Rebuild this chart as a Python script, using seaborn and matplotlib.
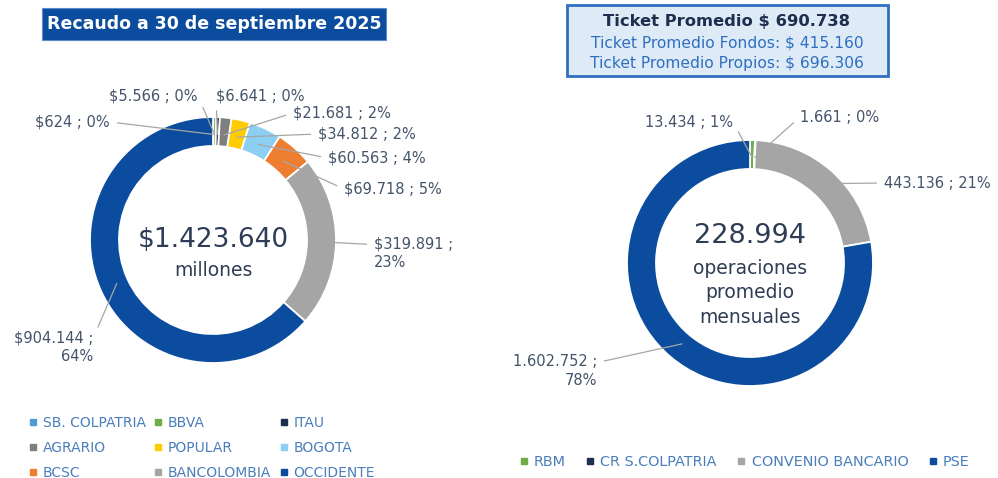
import matplotlib
matplotlib.use("Agg")
import matplotlib.pyplot as plt
from matplotlib.patches import Rectangle
from matplotlib.lines import Line2D
import seaborn as sns
import numpy as np

# ---------------- data ----------------
left_title = "Recaudo a 30 de septiembre 2025"
left_categories = ["SB. COLPATRIA", "BBVA", "ITAU", "AGRARIO", "POPULAR",
                   "BOGOTA", "BCSC", "BANCOLOMBIA", "OCCIDENTE"]
left_values = [624, 5566, 6641, 21681, 34812, 60563, 69718, 319891, 904144]
left_pcts = ["0%", "0%", "0%", "2%", "2%", "4%", "5%", "23%", "64%"]
left_center = ["$1.423.640", "millones"]

right_title = ["Ticket Promedio $ 690.738",
               "Ticket Promedio Fondos: $ 415.160",
               "Ticket Promedio Propios: $ 696.306"]
right_categories = ["RBM", "CR S.COLPATRIA", "CONVENIO BANCARIO", "PSE"]
right_values = [13434, 1661, 443136, 1602752]
right_pcts = ["1%", "0%", "21%", "78%"]
right_center = ["228.994", "operaciones\npromedio\nmensuales"]

# ---------------- style ----------------
left_colors = ["#4e9bd9", "#70ad47", "#1f2d4e", "#7f7f7f", "#ffcc00",
               "#8ccff2", "#ed7d31", "#a5a5a5", "#0b4c9e"]
right_colors = ["#70ad47", "#1f2d4e", "#a5a5a5", "#0b4c9e"]

sns.set_theme(style="white")
plt.rcParams['font.family'] = ['DejaVu Sans']

W, H = 998, 478
LABEL_C = "#44546a"
LEG_C = "#4a7ebb"
LINE_C = "#a6a6a6"

fig = plt.figure(figsize=(W / 100, H / 100), dpi=100)
ax = fig.add_axes([0, 0, 1, 1])


def Y(y):
    return H - y


def fmt(v, money):
    s = f"{v:,}".replace(",", ".")
    return ("$" + s) if money else s


def donut(values, colors, cx, cy, r, w):
    ax.pie(values, colors=colors, startangle=90, counterclock=False,
           center=(cx, Y(cy)), radius=r, frame=True,
           wedgeprops=dict(width=w, edgecolor="white", linewidth=1.3))
    tot = float(sum(values))
    cum = np.cumsum([0] + list(values))
    pts = []
    for i, v in enumerate(values):
        ang = np.deg2rad(90 - 360 * (cum[i] + v / 2) / tot)
        rr = r - w * 0.6
        pts.append((cx + rr * np.cos(ang), Y(cy) + rr * np.sin(ang)))
    return pts


# layout of labels (pixel positions, image coords): (x, y, ha, wrap)
left_label_pos = [(110, 122, "right", False), (198, 96, "right", False),
                  (216, 96, "left", False), (293, 113, "left", False),
                  (318, 134, "left", False), (328, 158, "left", False),
                  (344, 189, "left", False), (374, 253, "left", True),
                  (93, 347, "right", True)]
right_label_pos = [(733, 122, "right", False), (800, 117, "left", False),
                   (884, 183, "left", False), (597, 371, "right", True)]


def labels(values, pcts, pts, pos, money):
    for v, p, pt, (x, y, ha, wrap) in zip(values, pcts, pts, pos):
        txt = f"{fmt(v, money)} ;\n{p}" if wrap else f"{fmt(v, money)} ; {p}"
        if wrap:
            rel = (1, 0.75) if ha == "right" else (0, 0.75)
        else:
            rel = (1, 0.5) if ha == "right" else (0, 0.5)
        ax.annotate(txt, xy=pt, xytext=(x, Y(y)), ha=ha, va="center",
                    fontsize=10.5, color=LABEL_C, linespacing=1.3,
                    arrowprops=dict(arrowstyle="-", color=LINE_C, lw=0.9,
                                    relpos=rel, shrinkA=3, shrinkB=0))


lp = donut(left_values, left_colors, 213, 240, 123, 29)
labels(left_values, left_pcts, lp, left_label_pos, True)
rp = donut(right_values, right_colors, 750, 263, 123, 29)
labels(right_values, right_pcts, rp, right_label_pos, False)

ax.set_xlim(0, W)
ax.set_ylim(0, H)
ax.axis("off")

# center texts
ax.text(213, Y(240), left_center[0], ha="center", va="center",
        fontsize=19, color="#2e3d55")
ax.text(213, Y(271), left_center[1], ha="center", va="center",
        fontsize=13.5, color="#2e3d55")
ax.text(750, Y(236), right_center[0], ha="center", va="center",
        fontsize=19.5, color="#2e3d55")
ax.text(750, Y(293), right_center[1], ha="center", va="center",
        fontsize=13.5, color="#2e3d55", linespacing=1.35)

# title boxes
ax.add_patch(Rectangle((42, Y(40)), 344, 32, facecolor="#0b4c9e",
                       edgecolor="#5b8ad0", lw=0.8))
ax.text(214, Y(24), left_title, ha="center", va="center", fontsize=12.5,
        color="white", fontweight="bold")
ax.add_patch(Rectangle((567, Y(76)), 321, 71, facecolor="#deebf7",
                       edgecolor="#2f6fc0", lw=2))
ax.text(727, Y(21), right_title[0], ha="center", va="center", fontsize=11.8,
        color="#1f2d4e", fontweight="bold")
ax.text(727, Y(43), right_title[1], ha="center", va="center", fontsize=11.2,
        color="#2f6fc0")
ax.text(727, Y(63), right_title[2], ha="center", va="center", fontsize=11.2,
        color="#2f6fc0")


def handles(cats, cols):
    return [Line2D([], [], marker="s", linestyle="none", markersize=5,
                   markerfacecolor=c, markeredgecolor=c, label=k)
            for k, c in zip(cats, cols)]


# legend filled row by row (matplotlib fills column-wise)
lh = handles(left_categories, left_colors)
ncol = 3
nrow = int(np.ceil(len(lh) / ncol))
order = [r * ncol + c for c in range(ncol) for r in range(nrow)]
lh = [lh[i] for i in order]

leg1 = ax.legend(handles=lh, ncol=ncol,
                 loc="upper left", bbox_to_anchor=(22 / W, 1 - 409 / H),
                 frameon=False, fontsize=10, handlelength=0.6,
                 handletextpad=0.4, columnspacing=0.6, labelspacing=0.78,
                 borderpad=0, labelcolor=LEG_C)
ax.add_artist(leg1)
ax.legend(handles=handles(right_categories, right_colors), ncol=4,
          loc="upper left", bbox_to_anchor=(512 / W, 1 - 448 / H),
          frameon=False, fontsize=10.4, handlelength=0.6, handletextpad=0.4,
          columnspacing=1.4, borderpad=0, labelcolor=LEG_C)

fig.savefig("out.png", dpi=100)
